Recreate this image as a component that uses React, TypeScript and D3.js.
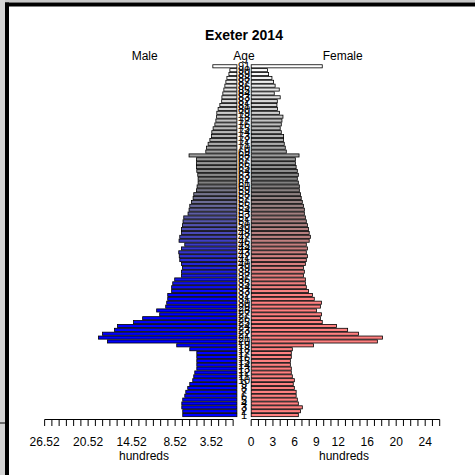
import React from 'react';
import * as d3 from 'd3';

// ages 0..90 (index), labels as drawn by pyramid.plot
const ageIndex: number[] = d3.range(0, 91);
const ageLabels: string[] = ageIndex.map((a) => String(a + 1));

// male population (hundreds), ages 0..90
const male: number[] = [
  7.47, 7.47, 7.6, 7.6, 7.47, 7.19, 7.05, 6.78, 6.5, 6.09,
  5.95, 5.81, 5.53, 5.53, 5.53, 5.53, 5.53, 6.5, 8.3, 17.84,
  19.09, 18.53, 16.87, 16.46, 14.25, 13.0, 10.65, 11.07, 9.82, 9.68,
  9.54, 9.54, 9.0, 9.0, 8.85, 8.58, 7.65, 7.65, 7.51, 7.65,
  7.88, 7.95, 8.02, 7.65, 7.19, 7.98, 7.88, 7.65, 7.65, 7.51,
  7.43, 7.33, 6.74, 6.6, 6.5, 6.27, 6.04, 5.95, 5.57, 5.49,
  5.35, 5.35, 5.4, 5.53, 5.57, 5.57, 5.57, 6.6, 4.29, 4.19,
  3.97, 3.73, 3.5, 3.46, 3.28, 3.04, 2.9, 2.8, 2.77, 2.59,
  2.35, 2.1, 2.07, 1.94, 1.8, 1.66, 1.52, 1.38, 1.1, 0.97,
  3.32,
];

// female population (hundreds), ages 0..90
const female: number[] = [
  6.5, 6.8, 7.05, 6.5, 6.36, 6.2, 6.2, 5.95, 5.8, 5.95,
  5.67, 5.53, 5.53, 5.4, 5.4, 5.53, 5.53, 5.67, 8.58, 17.4,
  18.1, 14.8, 13.3, 11.76, 9.8, 9.54, 9.7, 9.0, 9.54, 9.68,
  8.7, 8.44, 7.9, 7.6, 7.47, 7.47, 7.2, 7.33, 7.2, 7.47,
  7.6, 7.75, 7.6, 7.75, 7.6, 8.0, 8.16, 8.0, 7.9, 7.75,
  7.6, 7.47, 7.33, 7.33, 7.2, 7.05, 6.9, 6.8, 6.64, 6.64,
  6.5, 6.36, 6.5, 6.36, 6.2, 6.09, 6.09, 6.6, 4.84, 4.7,
  4.56, 4.47, 4.47, 4.15, 4.0, 4.15, 4.24, 4.38, 3.9, 3.64,
  3.55, 3.6, 4.0, 3.18, 3.87, 3.3, 3.09, 2.86, 2.4, 2.25,
  9.8,
];

// axis ticks
const maleTicks: number[] = [0.52, 1.52, 2.52, 3.52, 4.52, 5.52, 6.52, 7.52, 8.52, 9.52, 10.52, 11.52, 12.52, 13.52, 14.52, 15.52, 16.52, 17.52, 18.52, 19.52, 20.52, 21.52, 22.52, 23.52, 24.52, 25.52, 26.52];
const maleTickLabels: number[] = [26.52, 20.52, 14.52, 8.52, 3.52];
const femaleTicks: number[] = [0, 1, 2, 3, 4, 5, 6, 7, 8, 9, 10, 11, 12, 13, 14, 15, 16, 17, 18, 19, 20, 21, 22, 23, 24, 25, 26];
const femaleTickLabels: number[] = [0, 3, 6, 9, 12, 16, 20, 24];

const FONT = '"Liberation Sans", Arial, Helvetica, sans-serif';

export default function App() {
  const W = 475;
  const H = 475;
  const unit = 7.25;
  const maleZero = 236.9;
  const femaleZero = 251.2;
  const xM = d3.scaleLinear().domain([0, 1]).range([maleZero, maleZero - unit]);
  const xF = d3.scaleLinear().domain([0, 1]).range([femaleZero, femaleZero + unit]);
  const y = d3.scaleLinear().domain([0, 90]).range([415.1, 66.3]);
  const step = Math.abs(y(1) - y(0));
  const bh = step * 0.8;

  const mCol = d3
    .scaleLinear<string>()
    .domain([0, 30, 60, 90])
    .range(['rgb(0,0,255)', 'rgb(0,0,255)', 'rgb(128,128,128)', 'rgb(255,255,255)'])
    .interpolate(d3.interpolateRgb);
  const fCol = d3
    .scaleLinear<string>()
    .domain([0, 30, 60, 90])
    .range(['rgb(255,128,128)', 'rgb(255,128,128)', 'rgb(128,128,128)', 'rgb(255,255,255)'])
    .interpolate(d3.interpolateRgb);

  const axisY = 419.5;
  const tickLen = 6.5;
  const centerX = (maleZero + femaleZero) / 2;

  return (
    <svg
      width={W}
      height={H}
      style={{ position: 'absolute', left: 0, top: 0, background: '#fff' }}
      fontFamily={FONT}
    >
      <rect x={0} y={0} width={W} height={H} fill="#fff" />
      {/* window frame */}
      <rect x={0} y={0} width={W} height={2.5} fill="#c8c8c8" />
      <rect x={0} y={0} width={5} height={H} fill="#d4d4d4" />
      <rect x={5} y={2.5} width={W - 5} height={4} fill="#000" />
      <rect x={5} y={2.5} width={4} height={H} fill="#000" />
      <rect x={0} y={422.5} width={5} height={1} fill="#000" />

      {/* title & headers */}
      <text x={244} y={40} textAnchor="middle" fontSize={14} fontWeight="bold" fill="#000">
        Exeter 2014
      </text>
      <text x={144.7} y={60} textAnchor="middle" fontSize={12} fill="#000">Male</text>
      <text x={244} y={60} textAnchor="middle" fontSize={12} fill="#000">Age</text>
      <text x={342.7} y={60} textAnchor="middle" fontSize={12} fill="#000">Female</text>

      {/* bars */}
      {ageIndex.map((a) => (
        <rect
          key={'m' + a}
          x={xM(male[a])}
          y={y(a) - bh / 2}
          width={xM(0) - xM(male[a])}
          height={bh}
          fill={mCol(a)}
          stroke="#000"
          strokeWidth={0.8}
        />
      ))}
      {ageIndex.map((a) => (
        <rect
          key={'f' + a}
          x={xF(0)}
          y={y(a) - bh / 2}
          width={xF(female[a]) - xF(0)}
          height={bh}
          fill={fCol(a)}
          stroke="#000"
          strokeWidth={0.8}
        />
      ))}

      {/* age labels */}
      {ageIndex.map((a) => (
        <text
          key={'l' + a}
          x={centerX}
          y={y(a)}
          textAnchor="middle"
          dominantBaseline="central"
          fontSize={11}
          fill="#000"
        >
          {ageLabels[a]}
        </text>
      ))}

      {/* male axis */}
      <line x1={xM(maleTicks[0])} x2={xM(maleTicks[maleTicks.length - 1])} y1={axisY} y2={axisY} stroke="#000" />
      {maleTicks.map((t) => (
        <line key={'mt' + t} x1={xM(t)} x2={xM(t)} y1={axisY} y2={axisY + tickLen} stroke="#000" />
      ))}
      {maleTickLabels.map((t) => (
        <text key={'ml' + t} x={xM(t)} y={446} textAnchor="middle" fontSize={12} fill="#000">
          {t.toFixed(2)}
        </text>
      ))}
      <text x={144} y={459.5} textAnchor="middle" fontSize={12} fill="#000">hundreds</text>

      {/* female axis */}
      <line x1={xF(femaleTicks[0])} x2={xF(femaleTicks[femaleTicks.length - 1])} y1={axisY} y2={axisY} stroke="#000" />
      {femaleTicks.map((t) => (
        <line key={'ft' + t} x1={xF(t)} x2={xF(t)} y1={axisY} y2={axisY + tickLen} stroke="#000" />
      ))}
      {femaleTickLabels.map((t) => (
        <text key={'fl' + t} x={xF(t)} y={446} textAnchor="middle" fontSize={12} fill="#000">
          {t}
        </text>
      ))}
      <text x={344} y={459.5} textAnchor="middle" fontSize={12} fill="#000">hundreds</text>
    </svg>
  );
}
